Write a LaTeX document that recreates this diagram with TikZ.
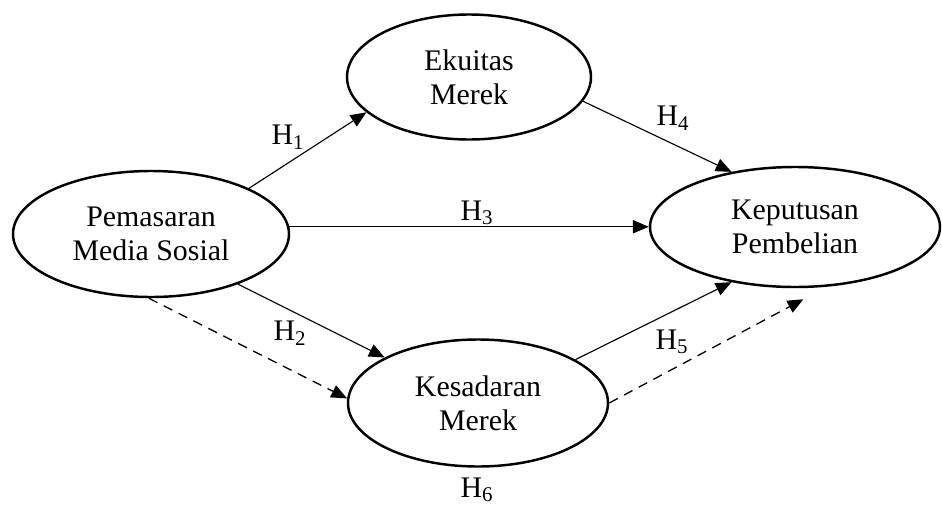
\documentclass[tikz,border=0pt]{standalone}
\usepackage{fontspec}
\setmainfont{Liberation Serif}
\usepackage{tikz}
\usetikzlibrary{arrows.meta}
\usetikzlibrary{shapes.geometric}

\begin{document}
\begin{tikzpicture}[
    konstruk/.style={ellipse, draw, line width=1.4pt, inner sep=0pt, align=center,
        font=\fontsize{17}{19.5}\selectfont},
    jalur/.style={-{Triangle[length=9pt,width=7.5pt]}, line width=0.65pt},
    tidaklangsung/.style={jalur, line width=0.75pt, dash pattern=on 5.5pt off 4pt},
    hipotesis/.style={font=\fontsize{17}{19.5}\selectfont, inner sep=1pt}
]
    \useasboundingbox (0,0) rectangle (18.84,-10.1);

    % Variables (ellipses)
    \node[konstruk, minimum width=5.52cm, minimum height=2.52cm] (pms) at (3.02,-4.68) {Pemasaran\\Media Sosial};
    \node[konstruk, minimum width=4.88cm, minimum height=2.5cm] (ekt) at (9.38,-1.54) {Ekuitas\\Merek};
    \node[konstruk, minimum width=5.8cm, minimum height=2.4cm] (kpt) at (15.9,-4.54) {Keputusan\\Pembelian};
    \node[konstruk, minimum width=5.2cm, minimum height=2.54cm] (ksd) at (9.56,-8.06) {Kesadaran\\Merek};

    % Hypothesis labels
    \node[hipotesis] (h1) at (5.76,-2.74) {H\textsubscript{1}};
    \node[hipotesis] (h2) at (5.8,-6.66) {H\textsubscript{2}};
    \node[hipotesis] (h3) at (9.54,-4.26) {H\textsubscript{3}};
    \node[hipotesis] (h4) at (13.46,-2.36) {H\textsubscript{4}};
    \node[hipotesis] (h5) at (13.44,-6.84) {H\textsubscript{5}};
    \node[hipotesis] (h6) at (9.54,-9.8) {H\textsubscript{6}};

    % Direct paths
    \draw[jalur] (pms.25) -- (ekt.199);
    \draw[jalur] (ekt.348) -- (kpt.139);
    \draw[jalur] (pms.3) -- (pms.3 -| kpt.west);
    \draw[jalur] (pms.330) -- (ksd.154);
    \draw[jalur] (ksd.24) -- (kpt.221);

    % Mediation paths (dashed)
    \draw[tidaklangsung] (pms.268) -- (ksd.178);
    \draw[tidaklangsung, shorten >=0.53cm] (ksd.east) -- (kpt.298);

\end{tikzpicture}
\end{document}
